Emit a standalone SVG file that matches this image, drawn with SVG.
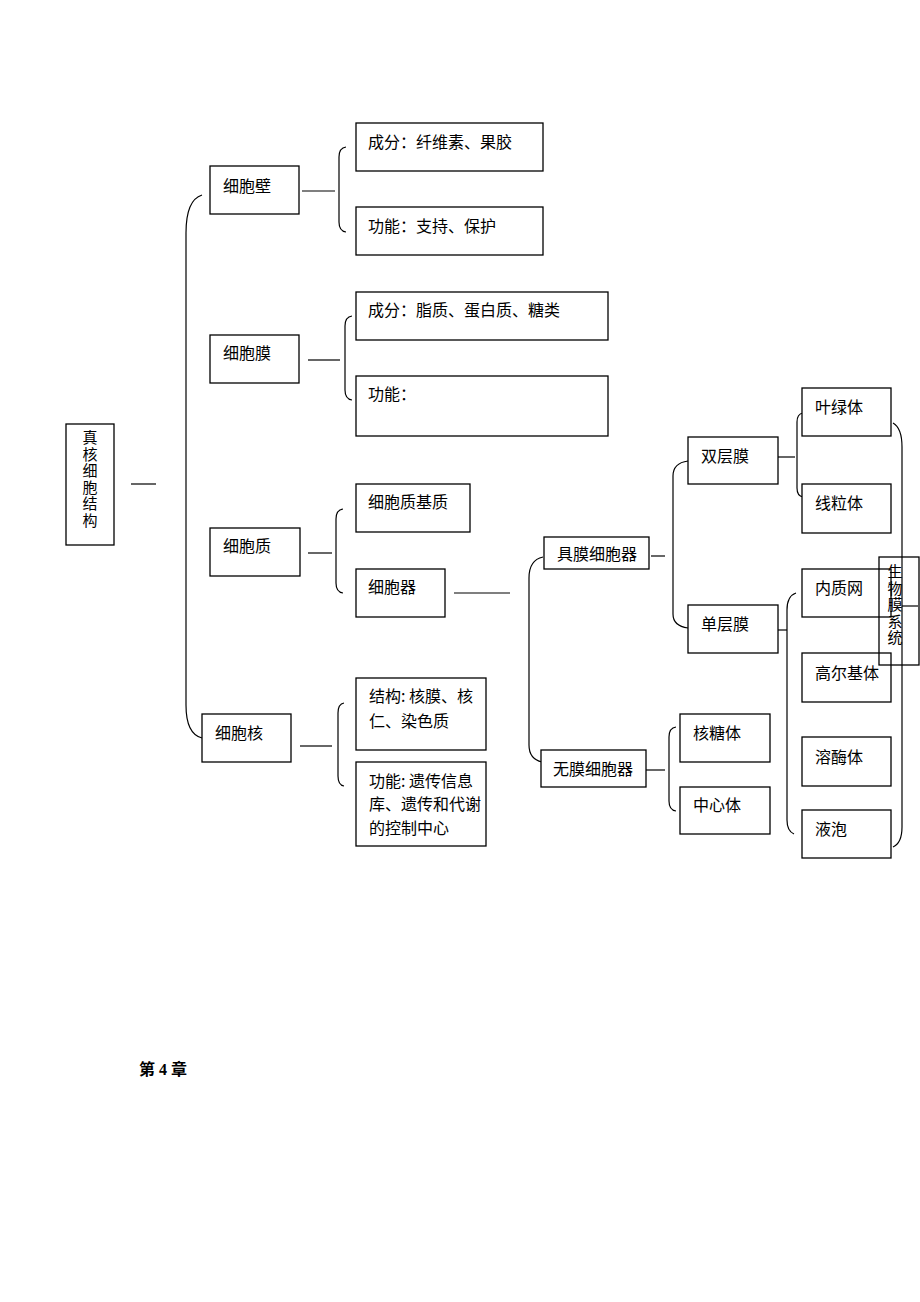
<svg xmlns="http://www.w3.org/2000/svg" width="920" height="1302" viewBox="0 0 920 1302">
<style>
.b{fill:#fff;stroke:#000;stroke-width:1.3}
.bn{fill:none;stroke:#000;stroke-width:1.3}
.c{fill:none;stroke:#000;stroke-width:1.2}
text{font-family:"Noto Sans CJK SC",sans-serif;font-size:16px;fill:#000}
.v{writing-mode:vertical-rl;font-size:15px;letter-spacing:1.5px}
.h{font-family:"Liberation Serif","Noto Sans CJK SC",serif;font-size:16px;font-weight:bold}
</style>
<rect x="0" y="0" width="920" height="1302" fill="#fff"/>
<g id="connectors">
<line class="c" x1="131" y1="484" x2="156" y2="484"/>
<path class="c" d="M202,195 Q186,200 186,233 L186,705 Q186,734 202,738"/>
<line class="c" x1="302" y1="191" x2="335" y2="191"/>
<path class="c" d="M346,147 Q339,148 339,157 L339,222 Q339,231 346,232"/>
<line class="c" x1="308" y1="360" x2="340" y2="360"/>
<path class="c" d="M352,316 Q345,317 345,326 L345,390 Q345,399 352,400"/>
<line class="c" x1="308" y1="553" x2="332" y2="553"/>
<path class="c" d="M343,509 Q336,510 336,519 L336,583 Q336,592 343,593"/>
<line class="c" x1="454" y1="593" x2="510" y2="593"/>
<path class="c" d="M543,557 Q529,560 529,578 L529,745 Q529,759 542,762"/>
<line class="c" x1="651" y1="556" x2="665" y2="556"/>
<path class="c" d="M688,461 Q673,463 673,476 L673,614 Q673,626 688,628"/>
<line class="c" x1="641" y1="770" x2="665" y2="770"/>
<path class="c" d="M676,727 Q669,728 669,737 L669,801 Q669,810 676,811"/>
<line class="c" x1="778" y1="457" x2="795" y2="457"/>
<path class="c" d="M803,413 Q797,414 797,422 L797,488 Q797,496 803,497"/>
<line class="c" x1="778" y1="630" x2="787" y2="630"/>
<path class="c" d="M796,593 Q787,596 787,610 L787,820 Q787,831 794,834"/>
<line class="c" x1="300" y1="746" x2="332" y2="746"/>
<path class="c" d="M344,703 Q338,704 338,713 L338,776 Q338,785 344,786"/>
<path class="c" d="M893,423 Q902,428 902,447 L902,827 Q902,843 893,847"/>
<line class="c" x1="902" y1="606" x2="918" y2="606"/>
</g>
<g id="n-root"><rect class="b" x="66" y="424" width="48" height="121"/>
<text class="v" x="90" y="430">真核细胞结构</text></g>
<g id="n-wall"><rect class="b" x="210" y="166" width="89" height="48"/><text x="223" y="192">细胞壁</text></g>
<g id="n-wall-comp"><rect class="b" x="356" y="123" width="187" height="48"/><text x="368" y="148">成分：纤维素、果胶</text></g>
<g id="n-wall-func"><rect class="b" x="356" y="207" width="187" height="48"/><text x="368" y="232">功能：支持、保护</text></g>
<g id="n-mem"><rect class="b" x="210" y="335" width="89" height="48"/><text x="223" y="359">细胞膜</text></g>
<g id="n-mem-comp"><rect class="b" x="356" y="292" width="252" height="48"/><text x="368" y="316">成分：脂质、蛋白质、糖类</text></g>
<g id="n-mem-func"><rect class="b" x="356" y="376" width="252" height="60"/><text x="368" y="400">功能：</text></g>
<g id="n-cyto"><rect class="b" x="210" y="528" width="90" height="48"/><text x="223" y="552">细胞质</text></g>
<g id="n-matrix"><rect class="b" x="356" y="484" width="114" height="48"/><text x="368" y="508">细胞质基质</text></g>
<g id="n-organelle"><rect class="b" x="356" y="569" width="89" height="48"/><text x="368" y="593">细胞器</text></g>
<g id="n-memorg"><rect class="b" x="544" y="537" width="105" height="32"/><text x="557" y="560">具膜细胞器</text></g>
<g id="n-nomemorg"><rect class="b" x="541" y="750" width="105" height="37"/><text x="553" y="775">无膜细胞器</text></g>
<g id="n-ribo"><rect class="b" x="680" y="714" width="90" height="48"/><text x="693" y="739">核糖体</text></g>
<g id="n-centro"><rect class="b" x="680" y="787" width="90" height="47"/><text x="693" y="811">中心体</text></g>
<g id="n-double"><rect class="b" x="688" y="437" width="90" height="47"/><text x="701" y="462">双层膜</text></g>
<g id="n-single"><rect class="b" x="688" y="605" width="90" height="48"/><text x="701" y="630">单层膜</text></g>
<g id="n-chloro"><rect class="b" x="802" y="388" width="89" height="48"/><text x="815" y="413">叶绿体</text></g>
<g id="n-mito"><rect class="b" x="802" y="484" width="89" height="49"/><text x="815" y="509">线粒体</text></g>
<g id="n-er"><rect class="b" x="802" y="569" width="89" height="48"/><text x="815" y="594">内质网</text></g>
<g id="n-golgi"><rect class="b" x="802" y="653" width="89" height="49"/><text x="815" y="679">高尔基体</text></g>
<g id="n-lyso"><rect class="b" x="802" y="737" width="89" height="49"/><text x="815" y="763">溶酶体</text></g>
<g id="n-vac"><rect class="b" x="802" y="810" width="89" height="48"/><text x="815" y="835">液泡</text></g>
<g id="n-biomem"><rect class="bn" x="879" y="557" width="40" height="108"/>
<text class="v" x="895" y="564">生物膜系统</text></g>
<g id="n-nucleus"><rect class="b" x="202" y="714" width="89" height="48"/><text x="215" y="739">细胞核</text></g>
<g id="n-nuc-struct"><rect class="b" x="356" y="678" width="130" height="72"/><text x="369" y="702">结构: 核膜、核</text><text x="369" y="727">仁、染色质</text></g>
<g id="n-nuc-func"><rect class="b" x="356" y="762" width="130" height="84"/><text x="369" y="787">功能: 遗传信息</text><text x="369" y="810">库、遗传和代谢</text><text x="369" y="834">的控制中心</text></g>
<text class="h" x="139" y="1075">第 4 章</text>
</svg>
